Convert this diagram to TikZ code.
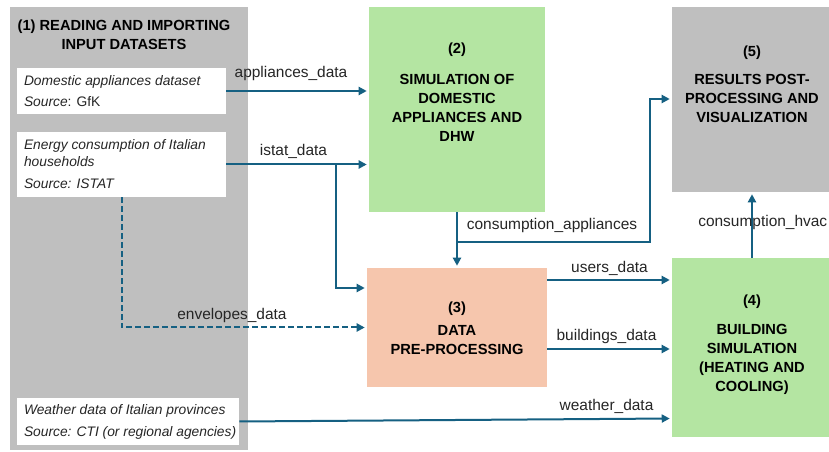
\documentclass[tikz,border=0pt]{standalone}
\usepackage{fontspec}
\setmainfont{Liberation Sans}
\usetikzlibrary{arrows.meta,calc}
\definecolor{arrc}{HTML}{156082}
\definecolor{greenc}{HTML}{B4E5A2}
\definecolor{orangec}{HTML}{F6C6AD}
\definecolor{greyc}{HTML}{BFBFBF}
\definecolor{labc}{HTML}{262626}
\begin{document}
\begin{tikzpicture}[x=0.75pt,y=-0.75pt,
  panel/.style={fill=greyc, draw=none, inner sep=0pt},
  databox/.style={fill=white, draw=none, inner sep=0pt},
  greenbox/.style={fill=greenc, draw=none, inner sep=0pt},
  orangebox/.style={fill=orangec, draw=none, inner sep=0pt},
  greybox/.style={fill=greyc, draw=none, inner sep=0pt},
  titletext/.style={font=\fontsize{11}{14.25}\selectfont\bfseries, align=center, inner sep=0pt, text=black},
  datatext/.style={font=\fontsize{10.35}{12.4}\selectfont, align=left, inner sep=0pt, anchor=west, text=labc},
  lab/.style={font=\fontsize{11.6}{14}\selectfont, text=labc, inner sep=0pt},
  arr/.style={draw=arrc, line width=1.5pt, shorten >=1.5pt, -{Triangle[length=6pt,width=6pt]}},
  dasharr/.style={arr, dash pattern=on 4.5pt off 2.25pt}
]
\fill[white] (0,0) rectangle (829,452);
\useasboundingbox (0,0) rectangle (829,452);

% (1) panel
\node[panel, minimum width=238*0.75pt, minimum height=443*0.75pt] (p1) at (129,228.5) {};
\node[titletext] (p1t) at (124,34.5) {(1) READING AND IMPORTING\\INPUT DATASETS};

% data boxes
\node[databox, minimum width=209*0.75pt, minimum height=46*0.75pt] (d1) at (121.5,91) {};
\node[datatext] (d1t) at ([xshift=5.25pt]d1.west) {\textit{Domestic appliances dataset}\\[3.35pt]\textit{Source}: GfK};

\node[databox, minimum width=209*0.75pt, minimum height=65*0.75pt] (d2) at (121.5,164.5) {};
\node[datatext] (d2t) at ([xshift=5.25pt,yshift=0.4pt]d2.west) {\itshape Energy consumption of Italian\\[0.35pt]\itshape households\\[4.1pt]\itshape Source: ISTAT};

\node[databox, minimum width=222*0.75pt, minimum height=47*0.75pt] (d3) at (128,421.5) {};
\node[datatext] (d3t) at ([xshift=5.25pt]d3.west) {\itshape Weather data of Italian provinces\\[4.1pt]\itshape Source: CTI (or regional agencies)};

% (2)
\node[greenbox, minimum width=176*0.75pt, minimum height=205*0.75pt] (n2) at (457,109.5) {};
\node[titletext] (n2t) at (457,92) {(2)\\[9pt]SIMULATION OF\\DOMESTIC\\APPLIANCES AND\\DHW};

% (5)
\node[greybox, minimum width=160*0.75pt, minimum height=185*0.75pt] (n5) at (752,99.5) {};
\node[titletext] (n5t) at (752,84) {(5)\\[6.75pt]RESULTS POST-\\PROCESSING AND\\VISUALIZATION};

% (3)
\node[orangebox, minimum width=180*0.75pt, minimum height=119*0.75pt] (n3) at (457,327.5) {};
\node[titletext] (n3t) at (457,328) {(3)\\[3pt]DATA\\PRE-PROCESSING};

% (4)
\node[greenbox, minimum width=160*0.75pt, minimum height=179*0.75pt] (n4) at (752,347.5) {};
\node[titletext] (n4t) at (752,345) {(4)\\[7.5pt]BUILDING\\SIMULATION\\(HEATING AND\\COOLING)};

% junction coordinates
\coordinate (j1) at (336,164.5);
\coordinate (j2) at (457,242);
\coordinate (j3) at (650,99);

% connectors
\draw[arr] (d1.east) -- (d1.east -| n2.west);
\draw[arr] (d2.east) -- (d2.east -| n2.west);
\draw[arr] (j1) |- (n3.west |- 0,288);
\draw[arr] (n2.south) -- (n3.north);
\draw[arr] (j2) -| (j3) -- (j3 -| n5.west);
\draw[arr] (n3.east |- 0,280) -- (n4.west |- 0,280);
\draw[arr] (n3.east |- 0,349) -- (n4.west |- 0,349);
\draw[arr] (d3.east) -- (n4.west |- 0,418.5);
\draw[arr] (n4.north) -- (n5.south);
\draw[dasharr] (d2.south) |- (n3.west);

% labels
\node[lab] (l1) at (291,74) {appliances\_data};
\node[lab] (l2) at (293.5,151) {istat\_data};
\node[lab] (l3) at (232,316) {envelopes\_data};
\node[lab] (l4) at (552,226) {consumption\_appliances};
\node[lab] (l5) at (609.5,268) {users\_data};
\node[lab] (l6) at (606.5,337) {buildings\_data};
\node[lab] (l7) at (606.5,406) {weather\_data};
\node[lab, anchor=west] (l8) at (698,223) {consumption\_hvac};
\end{tikzpicture}
\end{document}
